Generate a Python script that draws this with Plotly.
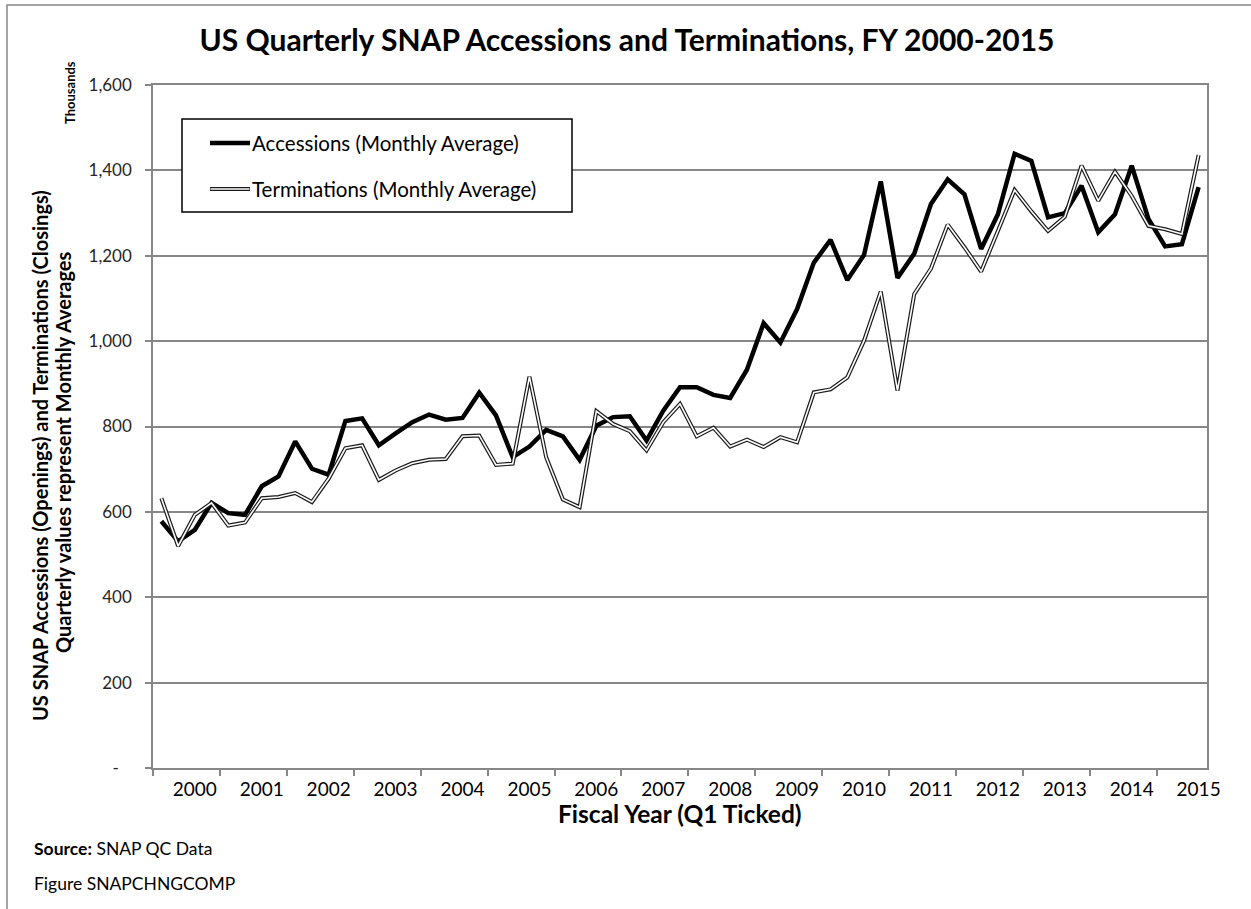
import plotly.graph_objects as go

# fiscal years / quarters, FY2000 Q1 .. FY2015 Q3
fiscal_year = [fy for fy in range(2000, 2016) for q in range(4)][:63]
quarter = [q for fy in range(2000, 2016) for q in range(1, 5)][:63]

accessions = [578, 531, 558, 621, 597, 593, 660, 683, 765, 701, 687, 813,
              819, 756, 784, 810, 828, 816, 820, 879, 826, 728, 753, 792,
              777, 722, 802, 822, 824, 767, 837, 892, 892, 874, 867, 933,
              1042, 997, 1075, 1184, 1237, 1143, 1202, 1374, 1148, 1205, 1321, 1379,
              1344, 1216, 1297, 1439, 1422, 1290, 1300, 1364, 1255, 1297, 1411, 1286,
              1222, 1227, 1361]
terminations = [632, 520, 593, 621, 568, 575, 632, 635, 644, 623, 678, 749,
                756, 675, 697, 714, 722, 724, 777, 779, 710, 713, 917, 728,
                629, 611, 836, 806, 789, 744, 810, 853, 777, 797, 753, 769,
                752, 775, 763, 880, 887, 915, 1001, 1116, 884, 1110, 1170, 1273,
                1220, 1163, 1258, 1354, 1304, 1258, 1291, 1411, 1329, 1397, 1340, 1270,
                1262, 1251, 1436]

years = list(range(2000, 2016))
y_ticks = [0, 200, 400, 600, 800, 1000, 1200, 1400, 1600]
y_text = ["-\u00a0\u00a0\u00a0", "200", "400", "600", "800", "1,000", "1,200", "1,400", "1,600"]

x = [fy + (q - 1) / 4 for fy, q in zip(fiscal_year, quarter)]

FONT = "Lato"
GRAY = "#878787"

fig = go.Figure()
fig.add_trace(go.Scatter(x=x, y=accessions, mode="lines", name="Accessions (Monthly Average)",
                         line=dict(color="black", width=4.5)))
fig.add_trace(go.Scatter(x=x, y=terminations, mode="lines", name="Terminations (Monthly Average)",
                         line=dict(color="#1a1a1a", width=4)))
fig.add_trace(go.Scatter(x=x, y=terminations, mode="lines", showlegend=False, hoverinfo="skip",
                         line=dict(color="white", width=1.6)))

W, H = 1251, 909
fig.update_layout(
    width=W, height=H,
    margin=dict(l=153, r=44, t=85, b=141),
    paper_bgcolor="white", plot_bgcolor="white",
    showlegend=False,
    font=dict(family=FONT, color="black"),
    title=dict(text="<b>US Quarterly SNAP Accessions and Terminations, FY 2000-2015</b>",
               x=627 / W, xref="container", xanchor="center",
               y=1 - 40 / H, yref="container", yanchor="middle",
               font=dict(size=30, family=FONT, color="black")),
)

fig.update_xaxes(
    range=[1999.875, 2015.625],
    tickmode="array", tickvals=[yr + 0.5 for yr in years], ticktext=[str(yr) for yr in years],
    ticks="", ticklen=0, ticklabelstandoff=3,
    tickfont=dict(size=19, family=FONT, color="black"),
    showgrid=False, zeroline=False,
    showline=True, linecolor=GRAY, linewidth=1.5, mirror=True,
    minor=dict(tickmode="array", tickvals=[yr - 0.125 for yr in years],
               ticks="outside", ticklen=6, tickwidth=1.5, tickcolor=GRAY, showgrid=False),
)
fig.update_yaxes(
    range=[0, 1600],
    tickmode="array", tickvals=y_ticks, ticktext=y_text,
    ticks="outside", ticklen=6, tickwidth=1.5, tickcolor=GRAY, ticklabelstandoff=10,
    tickfont=dict(size=17, family=FONT, color="#262626"),
    showgrid=True, gridcolor=GRAY, gridwidth=1.5, zeroline=False,
    showline=True, linecolor=GRAY, linewidth=1.5, mirror=True,
)


def px(v):
    return (v - 153) / 1054


def py(v):
    return (768 - v) / 683


# outer chart border (left and top edges visible)
fig.add_shape(type="rect", xref="paper", yref="paper",
              x0=px(7), x1=1.3, y0=-0.4, y1=py(5),
              line=dict(color=GRAY, width=1.5), layer="below")

# legend box
fig.add_shape(type="rect", xref="paper", yref="paper",
              x0=px(182), x1=px(572), y0=py(212), y1=py(119),
              line=dict(color="black", width=1.5), fillcolor="white")
fig.add_shape(type="line", xref="paper", yref="paper",
              x0=px(210), x1=px(250), y0=py(143), y1=py(143),
              line=dict(color="black", width=4.5))
fig.add_shape(type="line", xref="paper", yref="paper",
              x0=px(210), x1=px(250), y0=py(189), y1=py(189),
              line=dict(color="#1a1a1a", width=4))
fig.add_shape(type="line", xref="paper", yref="paper",
              x0=px(210.5), x1=px(249.5), y0=py(189), y1=py(189),
              line=dict(color="white", width=1.6))
fig.add_annotation(text="Accessions (Monthly Average)", xref="paper", yref="paper",
                   x=px(250), y=py(143), xanchor="left", yanchor="middle", showarrow=False,
                   font=dict(size=20.5, family=FONT, color="black"))
fig.add_annotation(text="Terminations (Monthly Average)", xref="paper", yref="paper",
                   x=px(250), y=py(189), xanchor="left", yanchor="middle", showarrow=False,
                   font=dict(size=20.5, family=FONT, color="black"))

# axis titles
fig.add_annotation(text="<b>US SNAP Accessions (Openings) and Terminations (Closings)</b>",
                   xref="paper", yref="paper", x=px(40), y=py(456), textangle=-90,
                   xanchor="center", yanchor="middle", showarrow=False,
                   font=dict(size=20, family=FONT, color="black"))
fig.add_annotation(text="<b>Quarterly values represent Monthly Averages</b>",
                   xref="paper", yref="paper", x=px(63), y=py(453), textangle=-90,
                   xanchor="center", yanchor="middle", showarrow=False,
                   font=dict(size=20, family=FONT, color="black"))
fig.add_annotation(text="<b>Thousands</b>", xref="paper", yref="paper", x=px(70), y=py(93),
                   textangle=-90, xanchor="center", yanchor="middle", showarrow=False,
                   font=dict(size=13, family=FONT, color="black"))
fig.add_annotation(text="<b>Fiscal Year (Q1 Ticked)</b>", xref="paper", yref="paper",
                   x=0.5, y=py(813), xanchor="center", yanchor="middle", showarrow=False,
                   font=dict(size=24.5, family=FONT, color="black"))

# footer notes
fig.add_annotation(text="<b>Source:</b> SNAP QC Data", xref="paper", yref="paper",
                   x=px(32), y=py(848), xanchor="left", yanchor="middle", showarrow=False,
                   font=dict(size=17.5, family=FONT, color="black"))
fig.add_annotation(text="Figure SNAPCHNGCOMP", xref="paper", yref="paper",
                   x=px(32), y=py(883), xanchor="left", yanchor="middle", showarrow=False,
                   font=dict(size=17.5, family=FONT, color="black"))

# drop the default page margin so the figure sits at the window origin
fig.write_html("out.html", config={"displayModeBar": False},
               post_script="document.body.style.margin='0';")
